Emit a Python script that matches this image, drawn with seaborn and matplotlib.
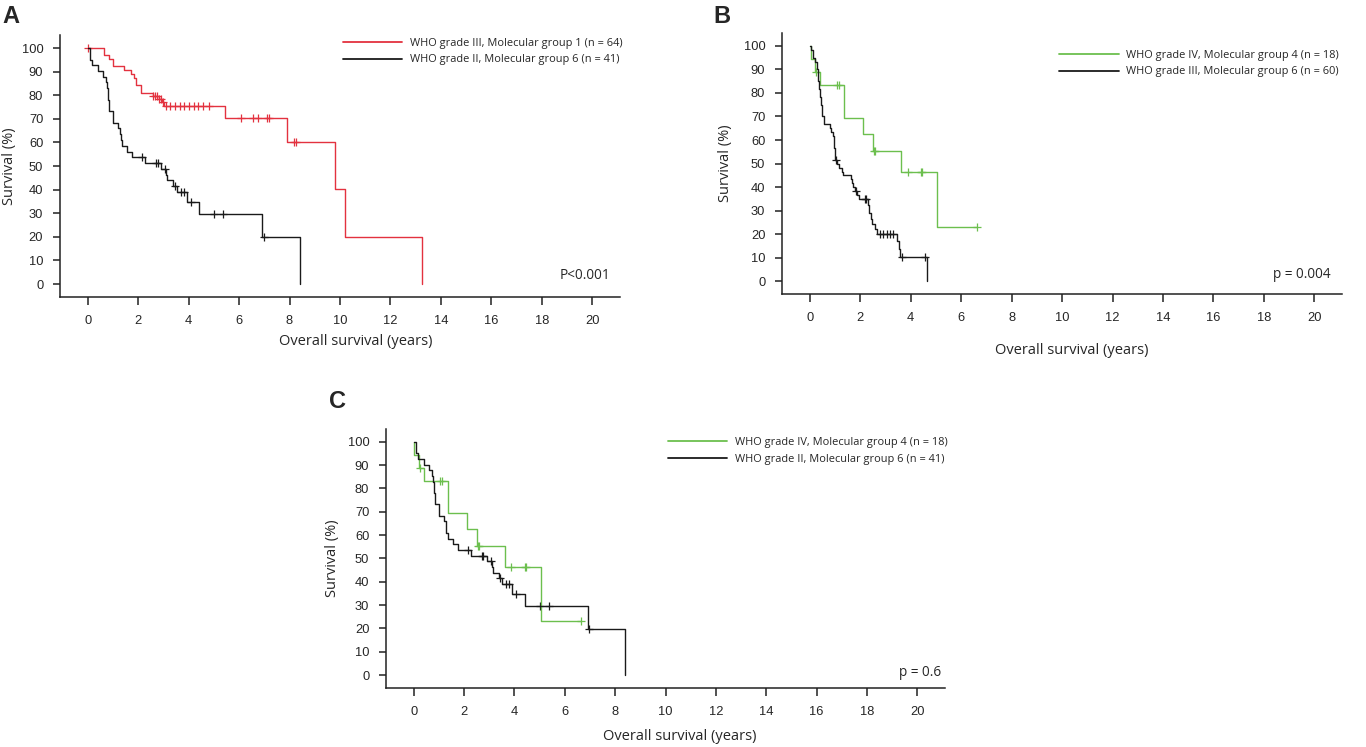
import seaborn as sns
import matplotlib.pyplot as plt

# KM curves (time in years, survival in %)
red_t = [0, 0.66, 0.86, 0.99, 1.45, 1.72, 1.85, 1.91, 2.11, 2.57, 2.81, 2.94, 3.03, 5.45, 7.88, 9.8, 10.2, 13.27]
red_s = [100, 96.9, 95.3, 92.2, 90.6, 89.0, 87.5, 84.4, 81.0, 79.7, 78.5, 77.0, 75.3, 70.4, 60.2, 40.1, 20.1, 0]
red_ct = [0.0, 2.6, 2.68, 2.75, 2.84, 2.9, 2.97, 3.1, 3.26, 3.46, 3.65, 3.83, 4.0, 4.2, 4.38, 4.58, 4.82,
          6.07, 6.56, 6.73, 7.12, 7.19, 8.17, 8.27]
red_cs = [100, 79.7, 79.7, 79.7, 78.5, 78.5, 77.0, 75.3, 75.3, 75.3, 75.3, 75.3, 75.3, 75.3, 75.3, 75.3, 75.3,
          70.4, 70.4, 70.4, 70.4, 70.4, 60.2, 60.2]

g2_t = [0, 0.1, 0.17, 0.42, 0.62, 0.71, 0.76, 0.80, 0.84, 1.0, 1.02, 1.2, 1.27, 1.3, 1.35, 1.55, 1.76, 2.28,
        2.92, 3.12, 3.15, 3.38, 3.52, 3.92, 4.4, 6.92, 8.4]
g2_s = [100, 95.1, 92.7, 90.2, 87.8, 85.4, 82.9, 78.0, 73.2, 70.7, 68.3, 65.9, 63.4, 61.0, 58.5, 56.1, 53.7, 51.2,
        48.8, 46.3, 43.9, 41.5, 39.1, 34.9, 29.8, 19.8, 0]
g2_ct = [2.15, 2.7, 2.77, 3.06, 3.44, 3.68, 3.8, 4.08, 5.0, 5.38, 6.97]
g2_cs = [53.7, 51.2, 51.2, 48.8, 41.5, 39.1, 39.1, 34.9, 29.8, 29.8, 19.8]

g4_t = [0, 0.03, 0.2, 0.4, 1.37, 2.12, 2.52, 3.61, 5.05, 6.64]
g4_s = [100, 94.4, 88.9, 83.3, 69.4, 62.5, 55.5, 46.3, 23.1, 23.1]
g4_ct = [0.25, 1.06, 1.14, 2.56, 2.6, 3.88, 4.41, 4.45, 6.64]
g4_cs = [88.9, 83.3, 83.3, 55.5, 55.5, 46.3, 46.3, 46.3, 23.1]

g3_t = [0, 0.04, 0.11, 0.13, 0.2, 0.27, 0.31, 0.33, 0.37, 0.42, 0.46, 0.5, 0.56, 0.8, 0.86, 0.93, 0.96, 1.0,
        1.09, 1.17, 1.26, 1.33, 1.62, 1.69, 1.73, 1.8, 1.86, 1.95, 2.3, 2.35, 2.42, 2.46, 2.59, 2.66,
        3.45, 3.55, 3.59, 4.63]
g3_s = [100, 98.3, 96.7, 95.0, 93.3, 90.0, 88.3, 85.0, 81.7, 78.3, 75.0, 70.0, 66.7, 65.0, 63.3, 61.7, 56.7, 51.7,
        50.0, 48.3, 46.6, 45.0, 43.3, 41.6, 39.9, 38.2, 36.5, 35.0, 32.5, 29.0, 26.5, 24.2, 22.2, 20.2,
        17.0, 13.6, 10.1, 0]
g3_ct = [1.03, 1.82, 2.19, 2.23, 2.79, 2.92, 3.05, 3.16, 3.29, 3.65, 4.58]
g3_cs = [51.7, 38.2, 35.0, 35.0, 20.2, 20.2, 20.2, 20.2, 20.2, 10.1, 10.1]

x_ticks = list(range(0, 21, 2))
y_ticks = list(range(0, 101, 10))

RED = "#e3323f"
GREEN = "#6cbf4e"
BLACK = "#1a1a1a"

sns.set_style("white")
plt.rcParams['font.family'] = ['Liberation Sans', 'DejaVu Sans']

fig = plt.figure(figsize=(13.66, 7.47), dpi=100)


def km_panel(rect, curves, ptext, ylab_x, xlab_xy, leg_xy, ptext_xy):
    ax = fig.add_axes(rect)
    for t, s, ct, cs, col, lab in curves:
        sns.lineplot(x=t, y=s, drawstyle='steps-post', color=col, lw=1.0, label=lab, ax=ax,
                     estimator=None, sort=False)
        sns.scatterplot(x=ct, y=cs, marker='+', s=28, color=col, linewidth=0.9, ax=ax, legend=False)
    ax.set_xlim(-1.1, 21.1)
    ax.set_ylim(-5.5, 105.5)
    ax.set_xticks(x_ticks)
    ax.set_yticks(y_ticks)
    for sp in ['top', 'right']:
        ax.spines[sp].set_visible(False)
    for sp in ['left', 'bottom']:
        ax.spines[sp].set_color('#222222')
        ax.spines[sp].set_linewidth(1.1)
    ax.tick_params(axis='both', direction='out', length=6, width=1.1, color='#222222',
                   labelsize=9.3, bottom=True, left=True)
    ax.tick_params(axis='x', pad=7)
    ax.tick_params(axis='y', length=5, pad=7)
    ax.set_ylabel("Survival (%)", fontsize=10.5, family='Open Sans')
    ax.set_xlabel("Overall survival (years)", fontsize=10.5, family='Open Sans')
    ax.yaxis.set_label_coords(ylab_x, 0.5)
    ax.xaxis.set_label_coords(*xlab_xy)
    leg = ax.legend(loc='upper left', bbox_to_anchor=leg_xy, frameon=False, borderpad=0, borderaxespad=0,
                    handlelength=5.4, handletextpad=0.7, labelspacing=0.5,
                    prop={'family': 'Open Sans', 'size': 7.9})
    for ln in leg.get_lines():
        ln.set_linewidth(1.3)
    ax.text(ptext_xy[0], ptext_xy[1], ptext, transform=ax.transAxes, ha='right', va='center',
            fontsize=9.8, family='Open Sans')
    return ax


km_panel([0.0439, 0.6024, 0.41, 0.3507],
         [(red_t, red_s, red_ct, red_cs, RED, "WHO grade III, Molecular group 1 (n = 64)"),
          (g2_t, g2_s, g2_ct, g2_cs, BLACK, "WHO grade II, Molecular group 6 (n = 41)")],
         "P<0.001", -0.077, (0.529, -0.141), (0.505, 0.989), (0.982, 0.084))

km_panel([0.5725, 0.6064, 0.41, 0.3494],
         [(g4_t, g4_s, g4_ct, g4_cs, GREEN, "WHO grade IV, Molecular group 4 (n = 18)"),
          (g3_t, g3_s, g3_ct, g3_cs, BLACK, "WHO grade III, Molecular group 6 (n = 60)")],
         "p = 0.004", -0.0875, (0.518, -0.188), (0.495, 0.935), (0.98, 0.073))

km_panel([0.2826, 0.079, 0.4092, 0.3467],
         [(g4_t, g4_s, g4_ct, g4_cs, GREEN, "WHO grade IV, Molecular group 4 (n = 18)"),
          (g2_t, g2_s, g2_ct, g2_cs, BLACK, "WHO grade II, Molecular group 6 (n = 41)")],
         "p = 0.6", -0.082, (0.526, -0.158), (0.504, 0.968), (0.993, 0.058))

fig.text(2 / 1366, 1 - 5 / 747, "A", fontsize=17, fontweight='bold', va='top', ha='left')
fig.text(713 / 1366, 1 - 5 / 747, "B", fontsize=17, fontweight='bold', va='top', ha='left')
fig.text(329 / 1366, 1 - 390 / 747, "C", fontsize=17, fontweight='bold', va='top', ha='left')

fig.savefig("out.png", dpi=100)
